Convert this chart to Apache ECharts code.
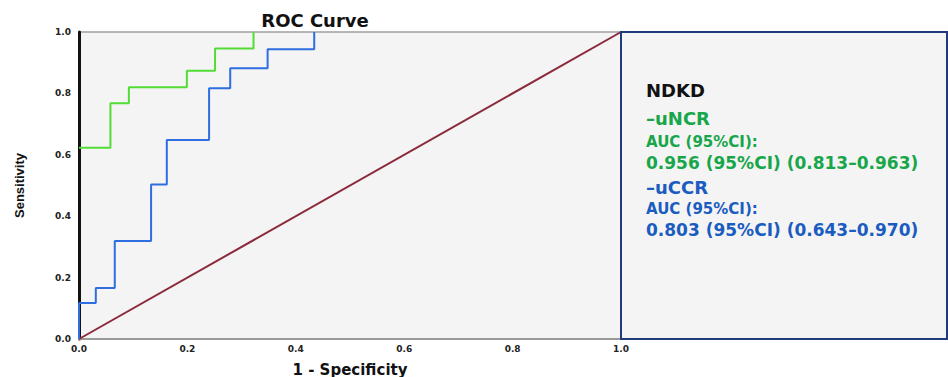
<!DOCTYPE html>
<html><head><meta charset="utf-8">
<script src="https://cdn.jsdelivr.net/npm/echarts@6/dist/echarts.min.js"></script>
<style>html,body{margin:0;padding:0;background:#fff;overflow:hidden}#c{width:948px;height:377px}</style>
</head><body><div id="c"></div>
<script>
// ROC points (1 - specificity, sensitivity)
const uNCR_fpr = [0, 0.058, 0.092, 0.199, 0.251, 0.322];
const uNCR_tpr = [0.623, 0.768, 0.820, 0.874, 0.946, 1.0];
const uCCR_fpr = [0, 0, 0.031, 0.066, 0.133, 0.162, 0.240, 0.279, 0.348, 0.434];
const uCCR_tpr = [0, 0.117, 0.166, 0.319, 0.503, 0.648, 0.817, 0.882, 0.944, 1.0];
const ref_fpr = [0, 1];
const ref_tpr = [0, 1];
const tickVals = [0, 0.2, 0.4, 0.6, 0.8, 1.0];
const legendLines = [
  {text: 'NDKD', color: '#111111', size: 18},
  {text: '\u2013uNCR', color: '#18a64a', size: 18},
  {text: 'AUC (95%CI):', color: '#18a64a', size: 15},
  {text: '0.956 (95%CI) (0.813\u20130.963)', color: '#18a64a', size: 17},
  {text: '\u2013uCCR', color: '#1b5cc0', size: 18},
  {text: 'AUC (95%CI):', color: '#1b5cc0', size: 15},
  {text: '0.803 (95%CI) (0.643\u20130.970)', color: '#1b5cc0', size: 17}
];
const legendY = [90, 118, 142, 163, 187, 209, 230];

const zip = (a, b) => a.map((v, i) => [v, b[i]]);
const chart = echarts.init(document.getElementById('c'), null, {renderer: 'svg', width: 948, height: 377});
const FF = '"DejaVu Sans", sans-serif';
const FL = '"Liberation Sans", Arial, sans-serif';
const tickLbl = v => tickVals.some(t => Math.abs(t - v) < 1e-9) ? v.toFixed(1) : '';

chart.setOption({
  animation: false,
  backgroundColor: '#ffffff',
  title: {text: 'ROC Curve', left: 310, top: 6, textAlign: 'center',
    textStyle: {fontFamily: FF, fontWeight: 'bold', fontSize: 18, color: '#111'}},
  grid: {left: 79, right: 327, top: 32, bottom: 38, show: true,
    outerBoundsMode: 'none', containLabel: false,
    backgroundColor: '#f4f4f4', borderColor: '#a0a0a0', borderWidth: 1.5},
  xAxis: {type: 'value', min: 0, max: 1, interval: 0.2,
    name: '1 - Specificity', nameLocation: 'middle', nameGap: 23,
    nameTextStyle: {fontFamily: FF, fontWeight: 'bold', fontSize: 15, color: '#111'},
    axisLine: {show: true, lineStyle: {color: '#9a9a9a', width: 2}},
    axisTick: {show: false}, splitLine: {show: false},
    axisLabel: {formatter: tickLbl, fontFamily: FF, fontWeight: 'bold', fontSize: 9, color: '#222', margin: 5}},
  yAxis: {type: 'value', min: 0, max: 1, interval: 0.2,
    name: 'Sensitivity', nameLocation: 'middle', nameGap: 53,
    nameTextStyle: {fontFamily: FL, fontWeight: 'bold', fontSize: 13, color: '#111'},
    axisLine: {show: true, lineStyle: {color: '#111', width: 3}},
    axisTick: {show: false}, splitLine: {show: false},
    axisLabel: {formatter: tickLbl, fontFamily: FF, fontWeight: 'bold', fontSize: 9, color: '#222', margin: 8}},
  series: [
    {type: 'line', name: 'Reference', data: zip(ref_fpr, ref_tpr), symbol: 'none',
      lineStyle: {color: '#8b2a3c', width: 2}, z: 3},
    {type: 'line', name: 'uCCR', data: zip(uCCR_fpr, uCCR_tpr), step: 'end', symbol: 'none',
      lineStyle: {color: '#2e6ee0', width: 2}, z: 4},
    {type: 'line', name: 'uNCR', data: zip(uNCR_fpr, uNCR_tpr), step: 'end', symbol: 'none',
      lineStyle: {color: '#52dc35', width: 2}, z: 5}
  ],
  graphic: [
    {type: 'rect', left: 620, top: 31, z: 10,
      shape: {width: 326, height: 307},
      style: {fill: '#f4f4f4', stroke: '#1f3b7a', lineWidth: 2}}
  ].concat(legendLines.map((l, i) => ({
    type: 'text', x: 646, y: legendY[i], z: 11,
    style: {text: l.text, fill: l.color, font: 'bold ' + l.size + 'px ' + FF, verticalAlign: 'middle'}
  })))
});
</script></body></html>
